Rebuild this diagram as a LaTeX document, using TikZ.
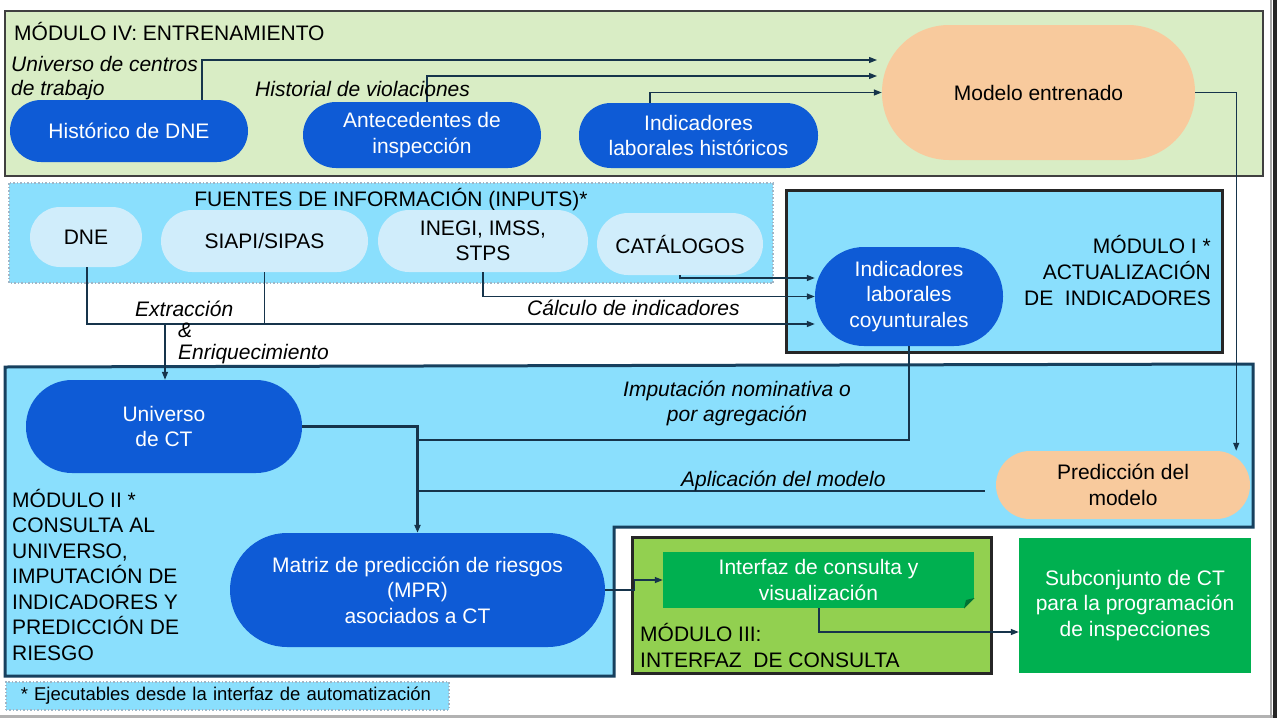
\documentclass[tikz,border=0pt]{standalone}
\usepackage{fontspec}
\setmainfont{Liberation Sans}
\usetikzlibrary{arrows.meta}

\definecolor{pillblue}{RGB}{14,91,214}
\definecolor{pillpale}{RGB}{208,237,251}
\definecolor{skyfill}{RGB}{138,223,253}
\definecolor{leaf}{RGB}{217,237,197}
\definecolor{peach}{RGB}{248,202,157}
\definecolor{lime}{RGB}{146,208,80}
\definecolor{grn}{RGB}{0,176,80}
\definecolor{navy}{RGB}{22,52,75}
\definecolor{modborder}{RGB}{23,64,94}
\definecolor{dotgray}{RGB}{160,182,198}

\tikzset{
  pill/.style={fill=pillblue, text=white, align=center, inner sep=0pt},
  pale/.style={fill=pillpale, align=center, inner sep=0pt},
  peachpill/.style={fill=peach, align=center, inner sep=0pt},
  greenbox/.style={fill=grn, text=white, align=center, inner sep=0pt},
  lbl/.style={font=\fontsize{21}{25}\selectfont\itshape, inner sep=0pt},
  modlbl/.style={inner sep=0pt},
  arr/.style={draw=navy, line width=1.3pt, -{Triangle[length=8pt,width=6pt]}},
  wire/.style={draw=navy, line width=1.3pt},
}

\begin{document}
\begin{tikzpicture}[x=1pt, y=-1pt, font=\fontsize{21}{25.5}\selectfont]
  \useasboundingbox (0,0) rectangle (1277,718);
  \fill[white] (0,0) rectangle (1277,718);
  % frame edges
  \fill[black!30] (0,715) rectangle (1273,718);
  \fill[black!35] (1270,0) rectangle (1272,718);
  \fill[black!85] (1273,0) rectangle (1277,718);

  % module boxes
  \draw[black!75, fill=leaf, line width=2.5pt] (5,11) rectangle (1263,176);
  \draw[dotgray, dotted, fill=skyfill, line width=1.5pt] (9,183) rectangle (773,283);
  \draw[black!85, fill=skyfill, line width=3pt] (786,190) rectangle (1222,352);
  \draw[modborder, fill=skyfill, line width=3pt] (5,367) -- (1253,364) -- (1253,527)
    -- (614,527) -- (614,676) -- (5,676) -- cycle;
  \draw[black!85, fill=lime, line width=3pt] (632,537) rectangle (991,673);

  % module titles
  \node[modlbl, anchor=west] (tit4) at (14,31) {MÓDULO IV: ENTRENAMIENTO};
  \node[modlbl] (titsrc) at (391,200) {FUENTES DE INFORMACIÓN (INPUTS)*};
  \node[modlbl, anchor=east, align=right, font=\fontsize{21}{26}\selectfont] (tit1) at (1211,270)
    {MÓDULO I *\\ACTUALIZACIÓN\\DE\ \ INDICADORES};
  \node[modlbl, anchor=west, align=left] (tit2) at (12,574.5)
    {MÓDULO II *\\CONSULTA AL\\UNIVERSO,\\IMPUTACIÓN DE\\INDICADORES Y\\PREDICCIÓN DE\\RIESGO};
  \node[modlbl, anchor=west, align=left] (tit3) at (640,645.5)
    {MÓDULO III:\\INTERFAZ\ \ DE CONSULTA};

  % training inputs
  \node[pill, minimum width=238pt, minimum height=62pt, rounded corners=31pt] (hdne) at (129,131) {Histórico de DNE};
  \node[pill, minimum width=238pt, minimum height=66pt, rounded corners=33pt] (antec) at (422,135) {Antecedentes de\\inspección};
  \node[pill, minimum width=239pt, minimum height=65pt, rounded corners=32pt] (indhist) at (698.5,135.5) {Indicadores\\laborales históricos};
  \node[peachpill, minimum width=313pt, minimum height=135pt, rounded corners=67pt] (modelo) at (1038.5,92.5) {Modelo entrenado};

  % sources
  \node[pale, minimum width=112pt, minimum height=60pt, rounded corners=30pt] (dne) at (86,237) {DNE};
  \node[pale, minimum width=207pt, minimum height=62pt, rounded corners=31pt] (siapi) at (264.5,241) {SIAPI/SIPAS};
  \node[pale, minimum width=210pt, minimum height=62pt, rounded corners=31pt] (inegi) at (483,241) {INEGI, IMSS,\\STPS};
  \node[pale, minimum width=166pt, minimum height=62pt, rounded corners=31pt] (catal) at (680,244) {CATÁLOGOS};

  % module I
  \node[pill, minimum width=188pt, minimum height=99pt, rounded corners=49pt] (indcoy) at (909,296.5) {Indicadores\\laborales\\coyunturales};

  % module II
  \node[pill, minimum width=276pt, minimum height=93pt, rounded corners=46pt] (univ) at (164,426.5) {Universo\\de CT};
  \node[pill, minimum width=375pt, minimum height=114pt, rounded corners=57pt] (mpr) at (417.5,590) {Matriz de predicción de riesgos\\(MPR)\\asociados a CT};
  \node[peachpill, minimum width=254pt, minimum height=68pt, rounded corners=34pt] (pred) at (1123,485) {Predicción del\\modelo};

  % module III and output
  \node[greenbox, minimum width=311pt, minimum height=56pt] (interfaz) at (818.5,580) {Interfaz de consulta y\\visualización};
  \fill[lime] (964,608.5) -- (974.5,608.5) -- (974.5,598) -- cycle;
  \fill[grn!65!black] (964,608.5) -- (966,600) -- (974.5,598) -- cycle;
  \node[greenbox, minimum width=232pt, minimum height=135pt] (subconj) at (1135,605.5) {Subconjunto de CT\\para la programación\\de inspecciones};

  % footnote
  \node[draw=dotgray, dotted, line width=1.5pt, fill=skyfill, anchor=north west, minimum height=28pt,
        text width=413pt, inner xsep=15pt, inner ysep=0pt, align=left, font=\fontsize{18.5}{22}\selectfont]
    (foot) at (5,681) {* Ejecutables desde la interfaz de automatización};

  % free ends
  \coordinate (modA) at (877,60);
  \coordinate (modB) at (877,76);
  \coordinate (ext) at (165,324);
  \coordinate (jn1) at (418,440);
  \coordinate (jn2) at (418,491);

  % connectors
  \draw[arr] ([xshift=73pt]hdne.north) |- (modA);
  \draw[arr] ([xshift=5pt]antec.north) |- (modB);
  \draw[arr] ([xshift=-48.5pt]indhist.north) |- (modelo.west);
  \draw[arr] (modelo.east) -| ([xshift=-14pt]pred.north east);

  \draw[arr] (catal.south) |- ([yshift=18.5pt]indcoy.west);
  \draw[arr] (inegi.south) |- (indcoy.west);
  \draw[arr] ([xshift=1pt]dne.south) |- ([yshift=-27.5pt]indcoy.west);
  \draw[wire] (siapi.south) |- (ext);
  \draw[arr] (ext) -- (ext |- univ.north);

  \draw[arr, line width=2.2pt] (univ.east) -| (mpr.north);
  \draw[wire] (indcoy.south) |- (jn1);
  \draw[wire] ([shift={(-11,6)}]pred.west) -- (jn2);

  \draw[arr] (mpr.east) -- ++(29,0) |- (interfaz.west);
  \draw[arr] ([xshift=0.5pt]interfaz.south) |- ([yshift=-26.5pt]subconj.west);

  % connector labels
  \node[lbl, anchor=west, align=left, font=\fontsize{21}{24}\selectfont\itshape] (lblcent) at (11,78) {Universo de centros\\de trabajo};
  \node[lbl, anchor=west] (lblhist) at (255,89) {Historial de violaciones};
  \node[lbl, anchor=west] (lblext) at (135,309) {Extracción};
  \node[lbl, anchor=west, align=left, font=\fontsize{21}{21.5}\selectfont\itshape] (lblenr) at (178,343.5) {\&\\Enriquecimiento};
  \node[lbl, anchor=west] (lblcalc) at (527,308) {Cálculo de indicadores};
  \node[lbl, align=center] (lblimp) at (737,403.5) {Imputación nominativa o\\por agregación};
  \node[lbl, anchor=west] (lblapl) at (681,481) {Aplicación del modelo};
\end{tikzpicture}
\end{document}
